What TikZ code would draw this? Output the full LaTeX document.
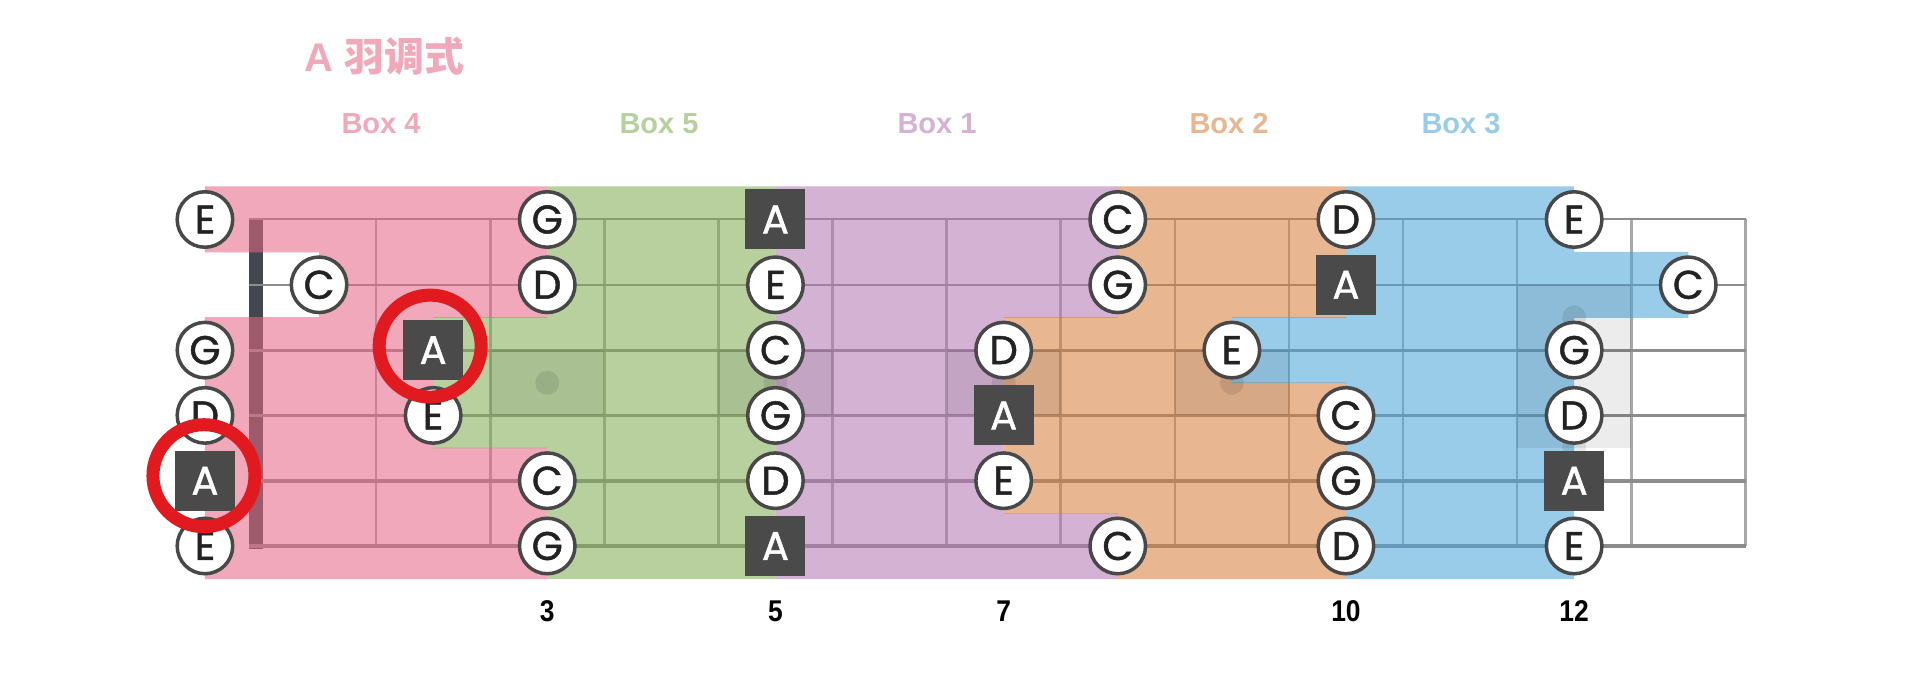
\documentclass[tikz,border=0pt]{standalone}
\usepackage{fontspec}
\setmainfont{Liberation Sans}
\newfontfamily\notefont{Poppins}[FakeBold=1.2]
\newfontfamily\boldsans{Liberation Sans}
\newfontfamily\condfont{Liberation Sans}[FakeStretch=0.88]
\newfontfamily\cjkfont{Noto Sans CJK SC}
\usetikzlibrary{calc}
% band colours (applied with opacity .57 over white)
\definecolor{pinkS}{RGB}{229,102,134}
\definecolor{greenS}{RGB}{129,173,85}
\definecolor{purpleS}{RGB}{181,120,178}
\definecolor{orangeS}{RGB}{215,127,62}
\definecolor{blueS}{RGB}{74,166,218}
% text colours
\definecolor{pinkT}{RGB}{240,168,186}
\definecolor{greenT}{RGB}{183,208,158}
\definecolor{purpleT}{RGB}{213,178,211}
\definecolor{orangeT}{RGB}{232,182,145}
\definecolor{blueT}{RGB}{152,204,234}
\definecolor{notetext}{RGB}{34,34,34}
\definecolor{noteline}{RGB}{72,72,72}
\definecolor{rootfill}{RGB}{74,74,74}
\definecolor{ringred}{RGB}{224,26,30}
\definecolor{stringc}{RGB}{140,140,140}
\definecolor{fretc}{RGB}{168,168,168}
\definecolor{nutc}{RGB}{68,72,78}
\begin{document}
\begin{tikzpicture}[x=1pt,y=-1pt,
  declare function={fx(\n)=262+114.1*(\n-0.5); sy(\s)=219.5+65.3*(\s-1); fl(\k)=262+114.1*\k;},
  note/.style={circle, draw=noteline, line width=3.5pt, fill=white, minimum size=55.5pt, inner sep=0pt,
    font=\notefont\fontsize{40}{40}\selectfont, text=notetext},
  rootsq/.style={rectangle, fill=rootfill, minimum size=60pt, inner sep=0pt,
    font=\notefont\fontsize{40}{40}\selectfont, text=white},
  redring/.style={circle, draw=ringred, line width=13pt, minimum size=102pt, inner sep=0pt},
  boxlabel/.style={font=\boldsans\bfseries\fontsize{29}{29}\selectfont, anchor=base},
  fretnum/.style={font=\condfont\bfseries\fontsize{30}{30}\selectfont, anchor=base, text=black},
  band/.style={fill opacity=0.57},
  shade/.style={fill=black, fill opacity=0.075},
  inlay/.style={fill=black, fill opacity=0.09},
]
\useasboundingbox (0,0) rectangle (1920,695);
\fill[white] (0,0) rectangle (1920,695);

% ---- fretboard ----
\fill[nutc] (249,219) rectangle (263,549);
\foreach \k in {1,...,13}
  \draw[fretc, line width=2.6pt] ({fl(\k)},{sy(1)}) -- ({fl(\k)},{sy(6)});
\foreach \s/\w in {1/2,2/2.2,3/2.8,4/3.3,5/3.9,6/4.8}
  \draw[stringc, line width=\w pt] (249,{sy(\s)}) -- ({fl(13)+1},{sy(\s)});

% ---- boxes ----
\fill[pinkS, band] \foreach \s/\a/\b in {1/0/3,2/1/3,3/0/2,4/0/2,5/0/3,6/0/3}
  { ({fx(\a)},{sy(\s)-33}) rectangle ({fx(\b)},{sy(\s)+33}) };
\fill[greenS, band] \foreach \s/\a/\b in {1/3/5,2/3/5,3/2/5,4/2/5,5/3/5,6/3/5}
  { ({fx(\a)},{sy(\s)-33}) rectangle ({fx(\b)},{sy(\s)+33}) };
\fill[purpleS, band] \foreach \s/\a/\b in {1/5/8,2/5/8,3/5/7,4/5/7,5/5/7,6/5/8}
  { ({fx(\a)},{sy(\s)-33}) rectangle ({fx(\b)},{sy(\s)+33}) };
\fill[orangeS, band] \foreach \s/\a/\b in {1/8/10,2/8/10,3/7/9,4/7/10,5/7/10,6/8/10}
  { ({fx(\a)},{sy(\s)-33}) rectangle ({fx(\b)},{sy(\s)+33}) };
\fill[blueS, band] \foreach \s/\a/\b in {1/10/12,2/10/13,3/9/12,4/10/12,5/10/12,6/10/12}
  { ({fx(\a)},{sy(\s)-33}) rectangle ({fx(\b)},{sy(\s)+33}) };

% ---- inlay shading and dots ----
\foreach \f in {3,5,7,9} {
  \fill[shade] ({fl(\f-1)},{sy(3)}) rectangle ({fl(\f)},{sy(4)});
  \fill[inlay] ({fx(\f)},{(sy(3)+sy(4))/2}) circle (12);
}
\fill[shade] ({fl(11)},{sy(2)}) rectangle ({fl(12)},448);
\fill[inlay] ({fx(12)},{(sy(2)+sy(3))/2}) circle (12);
\fill[inlay] ({fx(12)},{(sy(4)+sy(5))/2}) circle (12);

% ---- notes ----
\foreach \s/\f/\t in {1/0/E,3/0/G,4/0/D,6/0/E,2/1/C,4/2/E,
    1/3/G,2/3/D,5/3/C,6/3/G,
    2/5/E,3/5/C,4/5/G,5/5/D,
    3/7/D,5/7/E,
    1/8/C,2/8/G,6/8/C,
    3/9/E,
    1/10/D,4/10/C,5/10/G,6/10/D,
    1/12/E,3/12/G,4/12/D,6/12/E,
    2/13/C}
  \node[note] (n\s-\f) at ({fx(\f)},{sy(\s)}) {\t};
\foreach \s/\f in {5/0,3/2,1/5,6/5,4/7,2/10,5/12}
  \node[rootsq] (n\s-\f) at ({fx(\f)},{sy(\s)}) {A};

% ---- red rings ----
\node[redring] (ring1) at ($(n5-0)+(-1,-5)$) {};
\node[redring] (ring2) at ($(n3-2)+(-3,-4)$) {};

% ---- texts ----
\node[anchor=base west, inner sep=0pt, text=pinkT] (title) at (304,72)
  {\boldsans\bfseries\fontsize{40}{40}\selectfont A\ \cjkfont\bfseries\fontsize{40}{40}\selectfont 羽调式};
\node[boxlabel, text=pinkT] (b4) at (381,133.5) {Box 4};
\node[boxlabel, text=greenT] (b5) at (659,133.5) {Box 5};
\node[boxlabel, text=purpleT] (b1) at (937,133.5) {Box 1};
\node[boxlabel, text=orangeT] (b2) at (1229,133.5) {Box 2};
\node[boxlabel, text=blueT] (b3) at (1461,133.5) {Box 3};
\foreach \f in {3,5,7,10,12}
  \node[fretnum] (fn\f) at ({fx(\f)},621) {\f};
\end{tikzpicture}
\end{document}
